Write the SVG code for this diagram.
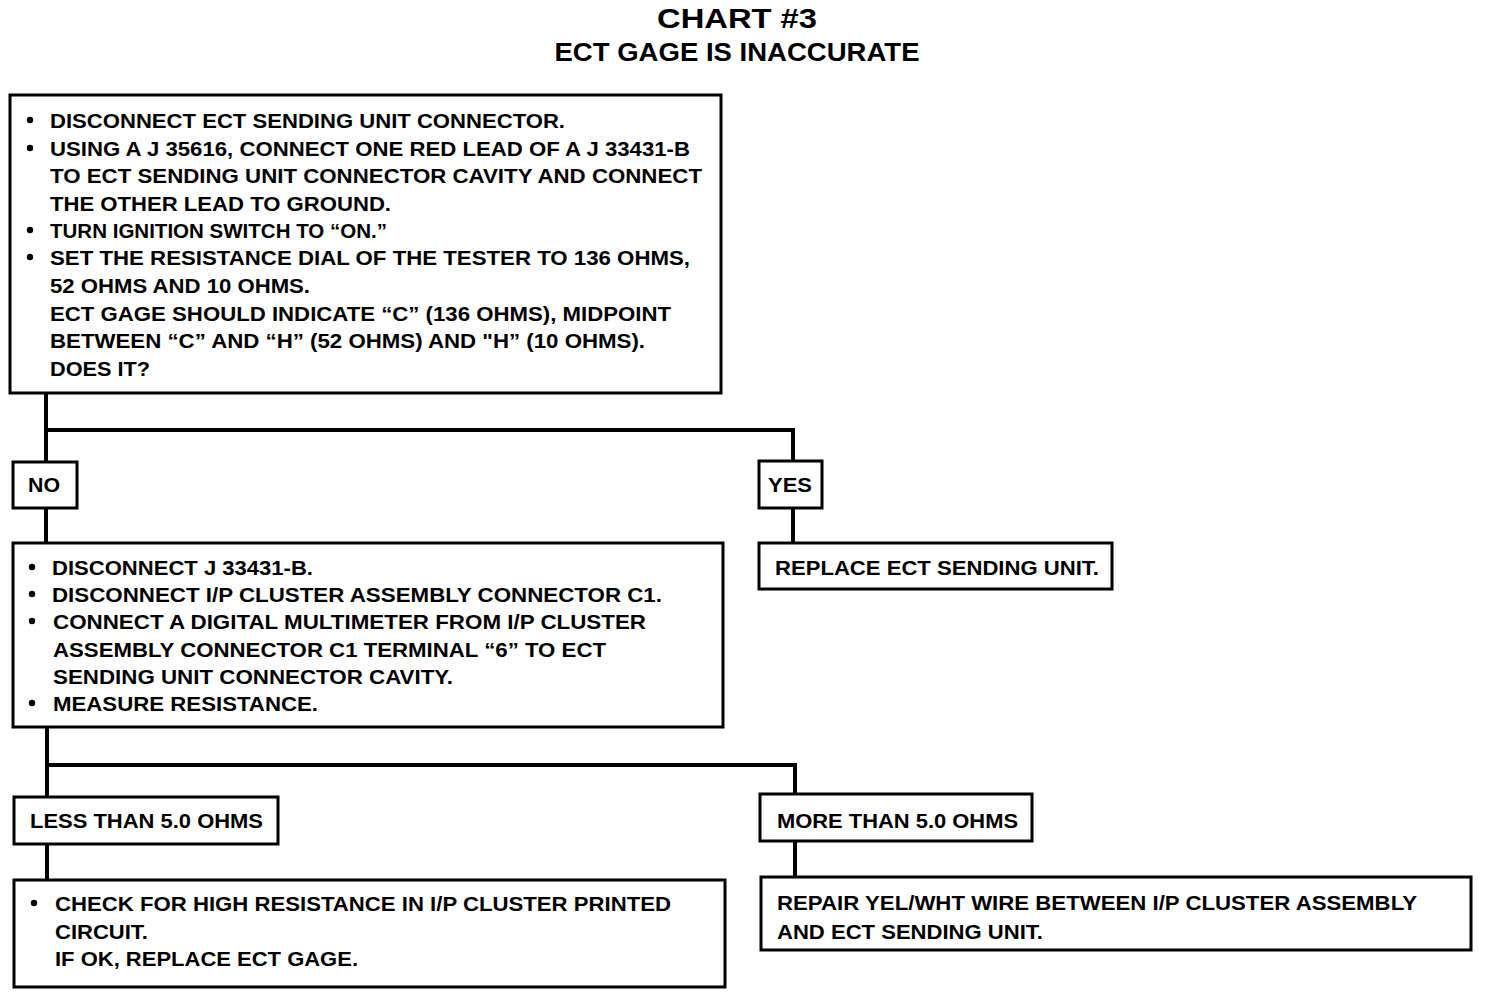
<svg xmlns="http://www.w3.org/2000/svg" width="1488" height="996" viewBox="0 0 1488 996">
<style>
.bg{fill:#fff}
.box{fill:#fff;stroke:#000;stroke-width:3}
.t{font-family:"Liberation Sans",Arial,sans-serif;font-weight:bold;font-size:20px;fill:#000}
.title{font-family:"Liberation Sans",Arial,sans-serif;font-weight:bold;fill:#000;text-anchor:middle}
.c{fill:none;stroke:#000;stroke-width:4}
.b{fill:#000}
</style>
<rect class="bg" x="0" y="0" width="1488" height="996"/>
<g id="title">
<text class="title" x="737" y="28" font-size="27" textLength="160" lengthAdjust="spacingAndGlyphs">CHART #3</text>
<text class="title" x="737" y="61" font-size="25" textLength="365" lengthAdjust="spacingAndGlyphs">ECT GAGE IS INACCURATE</text>
</g>
<g id="connectors">
<polyline class="c" points="46,393 46,430 793,430 793,461"/>
<line class="c" x1="46" y1="430" x2="46" y2="461"/>
<line class="c" x1="46" y1="508" x2="46" y2="542"/>
<line class="c" x1="793" y1="508" x2="793" y2="543"/>
<polyline class="c" points="47,727 47,765 795,765 795,794"/>
<line class="c" x1="47" y1="765" x2="47" y2="797"/>
<line class="c" x1="47" y1="844" x2="47" y2="880"/>
<line class="c" x1="795" y1="841" x2="795" y2="876"/>
</g>
<g id="step1">
<rect class="box" x="10" y="95" width="711" height="298"/>
<circle class="b" cx="30" cy="120" r="3.2"/>
<circle class="b" cx="30" cy="148" r="3.2"/>
<circle class="b" cx="30" cy="230" r="3.2"/>
<circle class="b" cx="30" cy="257" r="3.2"/>
<text class="t" x="50" y="128" textLength="515" lengthAdjust="spacingAndGlyphs">DISCONNECT ECT SENDING UNIT CONNECTOR.</text>
<text class="t" x="50" y="156" textLength="640" lengthAdjust="spacingAndGlyphs">USING A J 35616, CONNECT ONE RED LEAD OF A J 33431-B</text>
<text class="t" x="50" y="183" textLength="652" lengthAdjust="spacingAndGlyphs">TO ECT SENDING UNIT CONNECTOR CAVITY AND CONNECT</text>
<text class="t" x="50" y="211" textLength="341" lengthAdjust="spacingAndGlyphs">THE OTHER LEAD TO GROUND.</text>
<text class="t" x="50" y="238" textLength="337" lengthAdjust="spacingAndGlyphs">TURN IGNITION SWITCH TO “ON.”</text>
<text class="t" x="50" y="265" textLength="640" lengthAdjust="spacingAndGlyphs">SET THE RESISTANCE DIAL OF THE TESTER TO 136 OHMS,</text>
<text class="t" x="50" y="293" textLength="260" lengthAdjust="spacingAndGlyphs">52 OHMS AND 10 OHMS.</text>
<text class="t" x="50" y="321" textLength="621" lengthAdjust="spacingAndGlyphs">ECT GAGE SHOULD INDICATE “C” (136 OHMS), MIDPOINT</text>
<text class="t" x="50" y="348" textLength="595" lengthAdjust="spacingAndGlyphs">BETWEEN “C” AND “H” (52 OHMS) AND "H” (10 OHMS).</text>
<text class="t" x="50" y="376" textLength="100" lengthAdjust="spacingAndGlyphs">DOES IT?</text>
</g>
<g id="no">
<rect class="box" x="13" y="462" width="64" height="46"/>
<text class="t" x="28" y="492" textLength="32" lengthAdjust="spacingAndGlyphs">NO</text>
</g>
<g id="yes">
<rect class="box" x="759" y="461" width="63" height="47"/>
<text class="t" x="768" y="492" textLength="44" lengthAdjust="spacingAndGlyphs">YES</text>
</g>
<g id="step2">
<rect class="box" x="13" y="543" width="710" height="184"/>
<circle class="b" cx="32" cy="567" r="3.2"/>
<circle class="b" cx="32" cy="594" r="3.2"/>
<circle class="b" cx="32" cy="621" r="3.2"/>
<circle class="b" cx="32" cy="703" r="3.2"/>
<text class="t" x="52" y="575" textLength="261" lengthAdjust="spacingAndGlyphs">DISCONNECT J 33431-B.</text>
<text class="t" x="52" y="602" textLength="610" lengthAdjust="spacingAndGlyphs">DISCONNECT I/P CLUSTER ASSEMBLY CONNECTOR C1.</text>
<text class="t" x="53" y="629" textLength="593" lengthAdjust="spacingAndGlyphs">CONNECT A DIGITAL MULTIMETER FROM I/P CLUSTER</text>
<text class="t" x="53" y="657" textLength="553" lengthAdjust="spacingAndGlyphs">ASSEMBLY CONNECTOR C1 TERMINAL “6” TO ECT</text>
<text class="t" x="53" y="684" textLength="400" lengthAdjust="spacingAndGlyphs">SENDING UNIT CONNECTOR CAVITY.</text>
<text class="t" x="53" y="711" textLength="265" lengthAdjust="spacingAndGlyphs">MEASURE RESISTANCE.</text>
</g>
<g id="replace">
<rect class="box" x="759" y="543" width="353" height="46"/>
<text class="t" x="775" y="575" textLength="324" lengthAdjust="spacingAndGlyphs">REPLACE ECT SENDING UNIT.</text>
</g>
<g id="less">
<rect class="box" x="14" y="797" width="264" height="47"/>
<text class="t" x="30" y="828" textLength="233" lengthAdjust="spacingAndGlyphs">LESS THAN 5.0 OHMS</text>
</g>
<g id="more">
<rect class="box" x="760" y="794" width="272" height="47"/>
<text class="t" x="777" y="828" textLength="241" lengthAdjust="spacingAndGlyphs">MORE THAN 5.0 OHMS</text>
</g>
<g id="check">
<rect class="box" x="14" y="880" width="711" height="107"/>
<circle class="b" cx="34" cy="903" r="3.2"/>
<text class="t" x="55" y="911" textLength="616" lengthAdjust="spacingAndGlyphs">CHECK FOR HIGH RESISTANCE IN I/P CLUSTER PRINTED</text>
<text class="t" x="55" y="939" textLength="93" lengthAdjust="spacingAndGlyphs">CIRCUIT.</text>
<text class="t" x="55" y="966" textLength="303" lengthAdjust="spacingAndGlyphs">IF OK, REPLACE ECT GAGE.</text>
</g>
<g id="repair">
<rect class="box" x="761" y="877" width="710" height="73"/>
<text class="t" x="777" y="910" textLength="640" lengthAdjust="spacingAndGlyphs">REPAIR YEL/WHT WIRE BETWEEN I/P CLUSTER ASSEMBLY</text>
<text class="t" x="777" y="939" textLength="266" lengthAdjust="spacingAndGlyphs">AND ECT SENDING UNIT.</text>
</g>
</svg>
